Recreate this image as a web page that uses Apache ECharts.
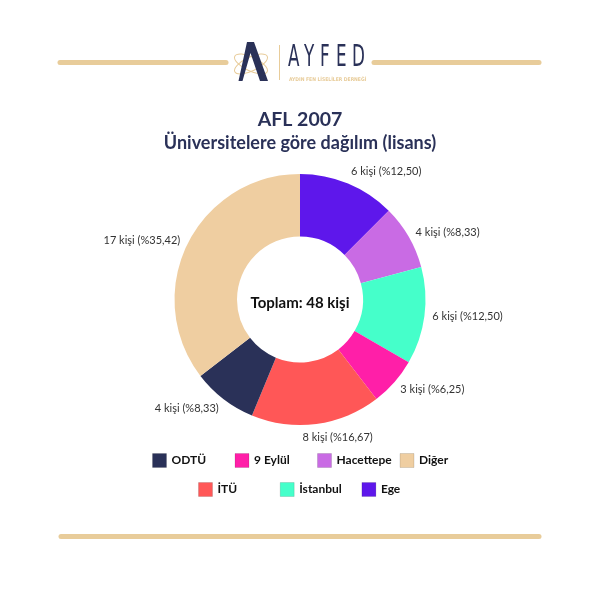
<!DOCTYPE html>
<html>
<head>
<meta charset="utf-8">
<script src="https://cdn.jsdelivr.net/npm/echarts@6/dist/echarts.min.js"></script>
<style>html,body{margin:0;padding:0;background:#fff}#c{width:600px;height:600px}</style>
</head>
<body>
<div id="c"></div>
<script>
// Data (clockwise from 12 o'clock)
var categories = ['Ege', 'Hacettepe', 'İstanbul', '9 Eylül', 'İTÜ', 'ODTÜ', 'Diğer'];
var values = [6, 4, 6, 3, 8, 4, 17];
var colors = ['#5e17eb', '#c96be4', '#45ffca', '#ff1fa8', '#ff5757', '#2a3158', '#efcea1'];
var legendRow1 = ['ODTÜ', '9 Eylül', 'Hacettepe', 'Diğer'];
var legendRow2 = ['İTÜ', 'İstanbul', 'Ege'];
var titleText = 'AFL 2007';
var subtitleText = 'Üniversitelere göre dağılım (lisans)';
var unit = 'kişi';

var total = values.reduce(function (a, b) { return a + b; }, 0);
var NAVY = '#2a3158', GOLD = '#e8cc9a';
var PIE_CENTER = [300, 299.5];

var chart = echarts.init(document.getElementById('c'), null, { renderer: 'canvas' });

var logoLetters = ['A', 'Y', 'F', 'E', 'D'];
var graphics = [
  { type: 'line', shape: { x1: 60, y1: 62.5, x2: 226, y2: 62.5 }, style: { stroke: GOLD, lineWidth: 5, lineCap: 'round' } },
  { type: 'line', shape: { x1: 374, y1: 62.5, x2: 539, y2: 62.5 }, style: { stroke: GOLD, lineWidth: 5, lineCap: 'round' } },
  { type: 'line', shape: { x1: 61, y1: 536.5, x2: 539, y2: 536.5 }, style: { stroke: GOLD, lineWidth: 5, lineCap: 'round' } },
  { type: 'line', shape: { x1: 279.5, y1: 45, x2: 279.5, y2: 80 }, style: { stroke: GOLD, lineWidth: 1 } },
  { type: 'ellipse', shape: { cx: 251, cy: 64, rx: 18, ry: 7 }, rotation: 0.45, originX: 251, originY: 64, style: { fill: 'none', stroke: GOLD, lineWidth: 1 } },
  { type: 'ellipse', shape: { cx: 251, cy: 64, rx: 18, ry: 7 }, rotation: -0.45, originX: 251, originY: 64, style: { fill: 'none', stroke: GOLD, lineWidth: 1 } },
  { type: 'polygon', shape: { points: [[247, 42], [254, 42], [268, 81], [260, 81], [250.5, 53], [242.5, 81], [238.5, 81]] }, style: { fill: NAVY } },
  { type: 'text', x: 289, y: 77, style: { text: 'AYDIN FEN LİSELİLER DERNEĞİ', fill: GOLD, font: 'bold 5px "DejaVu Sans Condensed"' } }
];
logoLetters.forEach(function (ch, i) {
  graphics.push({ type: 'text', x: 288 + i * 16, y: 43, scaleX: 0.62, originX: 0, originY: 0, style: { text: ch, fill: NAVY, font: '30px "DejaVu Sans Condensed"' } });
});

function legendItem(name, left, top) {
  return {
    orient: 'horizontal',
    icon: 'rect',
    left: left,
    top: top,
    padding: 0,
    itemWidth: 14,
    itemHeight: 14,
    selectedMode: false,
    itemStyle: { borderWidth: 1, borderColor: 'rgba(0,0,0,0.12)' },
    textStyle: { fontFamily: 'Lato', fontWeight: 'bold', fontSize: 12, color: '#111' },
    data: [name]
  };
}
var LEGEND_STEP = 82.5;
var legends = [];
legendRow1.forEach(function (n, i) { legends.push(legendItem(n, 152 + i * LEGEND_STEP, 453)); });
legendRow2.forEach(function (n, i) { legends.push(legendItem(n, 198 + i * 81.7, 482)); });

function clamp01(v) { return Math.max(0, Math.min(1, v)); }

var option = {
  backgroundColor: '#ffffff',
  animation: false,
  color: colors,
  title: [
    { text: titleText, left: 'center', top: 105, textStyle: { fontFamily: 'Lato', fontWeight: 'bold', fontSize: 19.5, color: NAVY } },
    { text: subtitleText, left: 'center', top: 129, textStyle: { fontFamily: 'Lato', fontWeight: 'bold', fontSize: 18, color: NAVY } },
    { text: 'Toplam: ' + total + ' ' + unit, left: 'center', top: 291, textStyle: { fontFamily: 'Lato', fontWeight: 'bold', fontSize: 15, color: '#111' } }
  ],
  legend: legends,
  graphic: graphics,
  series: [{
    type: 'pie',
    center: PIE_CENTER,
    radius: [63, 125.5],
    startAngle: 90,
    clockwise: true,
    avoidLabelOverlap: false,
    silent: true,
    label: {
      show: true,
      position: 'outside',
      distanceToLabelLine: 0,
      fontFamily: 'Lato',
      fontSize: 11,
      color: '#333',
      formatter: function (p) {
        return p.value + ' ' + unit + ' (%' + (p.value / total * 100).toFixed(2).replace('.', ',') + ')';
      }
    },
    labelLine: { show: false, length: 8, length2: 0 },
    // "outside end" style: slide the label box around its anchor according to the direction from the centre
    labelLayout: function (p) {
      var r = p.labelRect;
      var ax = (p.align === 'right') ? r.x + r.width : r.x;
      var ay = r.y + r.height / 2;
      var vx = ax - PIE_CENTER[0], vy = ay - PIE_CENTER[1];
      var len = Math.sqrt(vx * vx + vy * vy) || 1;
      var dx = vx / len, dy = vy / len;
      var fx = clamp01(0.5 - 2.2 * dx);
      var fy = clamp01(0.5 - 0.5 * dy * dy * dy);
      return { x: ax - fx * r.width, y: ay - fy * r.height, align: 'left', verticalAlign: 'top' };
    },
    data: categories.map(function (c, i) { return { name: c, value: values[i], itemStyle: { color: colors[i] } }; })
  }]
};
chart.setOption(option);
</script>
</body>
</html>
